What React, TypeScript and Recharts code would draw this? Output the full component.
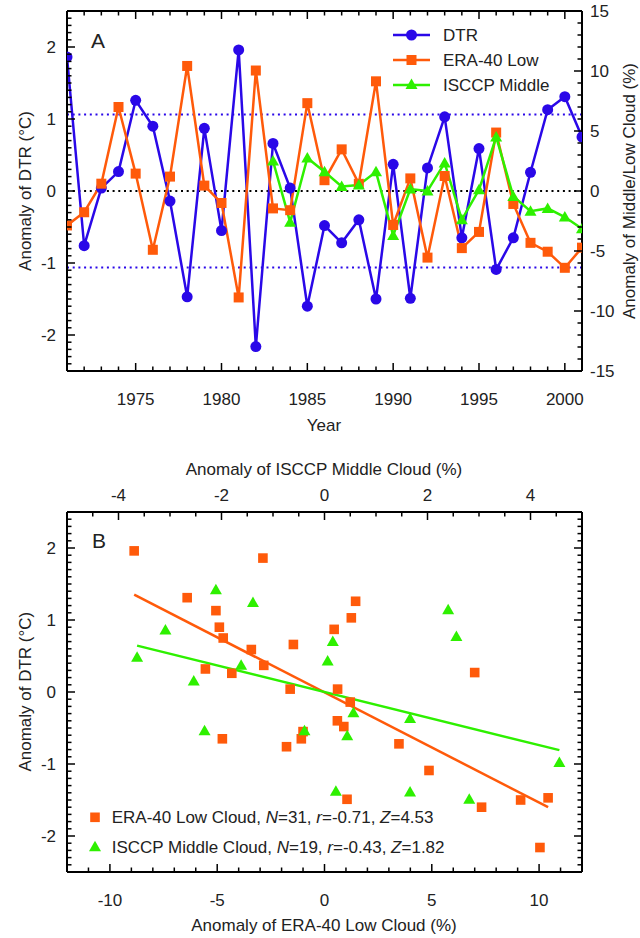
import React from 'react';
import { ComposedChart, Line, XAxis, YAxis, ReferenceLine, ScatterChart, Scatter, Legend } from 'recharts';

const FONT = '"Liberation Sans", Arial, Helvetica, sans-serif';
const TXT = '#222';
const BLUE = '#2a08e8';
const ORANGE = '#ff5a0a';
const GREEN = '#2ef000';

// ---------- data ----------
const years = [1971, 1972, 1973, 1974, 1975, 1976, 1977, 1978, 1979, 1980, 1981, 1982, 1983, 1984, 1985, 1986,
  1987, 1988, 1989, 1990, 1991, 1992, 1993, 1994, 1995, 1996, 1997, 1998, 1999, 2000, 2001];
const dtr = [1.86, -0.76, 0.04, 0.27, 1.26, 0.90, -0.14, -1.47, 0.87, -0.55, 1.96, -2.16, 0.66, 0.04, -1.60, -0.48,
  -0.72, -0.40, -1.50, 0.37, -1.49, 0.32, 1.03, -0.65, 0.59, -1.09, -0.65, 0.26, 1.13, 1.31, 0.75];
const eraLow = [-2.87, -1.77, 0.61, 7.0, 1.45, -4.9, 1.2, 10.42, 0.45, -1.0, -8.87, 10.04, -1.45, -1.6, 7.32, 0.9,
  3.47, 0.6, 9.14, -2.83, 1.05, -5.55, 1.25, -4.76, -3.41, 4.87, -1.08, -4.32, -5.06, -6.4, -4.72];
const isccpYears = [1983, 1984, 1985, 1986, 1987, 1988, 1989, 1990, 1991, 1992, 1993, 1994, 1995, 1996, 1997, 1998,
  1999, 2000, 2001];
const isccpMiddle = [2.5, -2.6, 2.75, 1.6, 0.38, 0.5, 1.6, -3.7, 0.16, 0.0, 2.34, -2.39, 0.1, 4.5, -0.45, -1.68,
  -1.45, -2.17, -3.15];

const yearLabels = [1975, 1980, 1985, 1990, 1995, 2000];
const dtrLabels = [-2, -1, 0, 1, 2];
const cloudLabels = [-15, -10, -5, 0, 5, 10, 15];
const eraLabels = [-10, -5, 0, 5, 10];
const isccpLabels = [-4, -2, 0, 2, 4];

// ---------- helpers ----------
const range = (a: number, b: number, step: number) => {
  const out: number[] = [];
  const n = Math.round((b - a) / step);
  for (let i = 0; i <= n; i++) out.push(Math.round((a + i * step) * 1000) / 1000);
  return out;
};
const mean = (a: number[]) => a.reduce((s, v) => s + v, 0) / a.length;
const sdev = (a: number[]) => {
  const m = mean(a);
  return Math.sqrt(a.reduce((s, v) => s + (v - m) * (v - m), 0) / (a.length - 1));
};
const fitLine = (xs: number[], ys: number[]) => {
  const mx = mean(xs), my = mean(ys);
  let sxy = 0, sxx = 0;
  xs.forEach((x, i) => { sxy += (x - mx) * (ys[i] - my); sxx += (x - mx) * (x - mx); });
  const b = sxy / sxx, a = my - b * mx;
  const x0 = Math.min(...xs), x1 = Math.max(...xs);
  return [{ x: x0, y: a + b * x0 }, { x: x1, y: a + b * x1 }];
};

const yearTicks = years;
const dtrTicks = range(-2.5, 2.5, 0.1);
const cloudTicks = range(-15, 15, 1);
const eraTicks = range(-12, 12, 1);
const isccpTicks = range(-5, 5, 0.5);

const dtrSd = sdev(dtr);

const rowsA = years.map((yr, i) => {
  const j = isccpYears.indexOf(yr);
  return { year: yr, dtr: dtr[i], era: eraLow[i], isccp: j >= 0 ? isccpMiddle[j] : null };
});

const eraPts = eraLow.map((e, i) => ({ x: e, y: dtr[i] }));
const dtrSub = isccpYears.map((yr) => dtr[years.indexOf(yr)]);
const dtrSubMean = mean(dtrSub);
const isccpMean = mean(isccpMiddle);
const isccpPts = isccpMiddle.map((v, i) => ({ x: v - isccpMean, y: dtrSub[i] - dtrSubMean }));
const eraFit = fitLine(eraPts.map((p) => p.x), eraPts.map((p) => p.y));
const isccpFit = fitLine(isccpPts.map((p) => p.x), isccpPts.map((p) => p.y));

// ---------- ticks ----------
const isIn = (list: number[], v: number) => list.some((l) => Math.abs(l - v) < 1e-6);
const tickText = { fontFamily: FONT, fontSize: 17, fill: TXT };

function tickRenderer(orient: string, majors: number[], showLabels: boolean) {
  return (props: any) => {
    const { x, y, payload } = props;
    const v = payload.value;
    const major = isIn(majors, v);
    const len = major ? 8 : 4.5;
    let line: any = null;
    let label: any = null;
    if (orient === 'bottom') {
      line = <line x1={x} y1={y} x2={x} y2={y - len} stroke="#000" strokeWidth={1.5} />;
      if (showLabels && major) label = <text x={x} y={y + 34} textAnchor="middle" {...tickText}>{String(v)}</text>;
    } else if (orient === 'top') {
      line = <line x1={x} y1={y} x2={x} y2={y + len} stroke="#000" strokeWidth={1.5} />;
      if (showLabels && major) label = <text x={x} y={y - 11} textAnchor="middle" {...tickText}>{String(v)}</text>;
    } else if (orient === 'left') {
      line = <line x1={x} y1={y} x2={x + len} y2={y} stroke="#000" strokeWidth={1.5} />;
      if (showLabels && major) label = <text x={x - 11} y={y + 6} textAnchor="end" {...tickText}>{String(v)}</text>;
    } else {
      line = <line x1={x} y1={y} x2={x - len} y2={y} stroke="#000" strokeWidth={1.5} />;
      if (showLabels && major) label = <text x={x + 8} y={y + 6} textAnchor="start" {...tickText}>{String(v)}</text>;
    }
    return <g>{line}{label}</g>;
  };
}

// ---------- markers ----------
const circleDot = (props: any) => {
  const { cx, cy, index } = props;
  if (cx == null || cy == null) return <g key={`c${index}`} />;
  return <circle key={`c${index}`} cx={cx} cy={cy} r={5.5} fill={BLUE} />;
};
const squareDot = (props: any) => {
  const { cx, cy, index } = props;
  if (cx == null || cy == null) return <g key={`s${index}`} />;
  return <rect key={`s${index}`} x={cx - 5} y={cy - 5} width={10} height={10} fill={ORANGE} />;
};
const triDot = (props: any) => {
  const { cx, cy, index } = props;
  if (cx == null || cy == null) return <g key={`t${index}`} />;
  return <polygon key={`t${index}`} points={`${cx},${cy - 6} ${cx - 6},${cy + 4.5} ${cx + 6},${cy + 4.5}`} fill={GREEN} />;
};
const squareShape = (props: any) => (
  <rect x={props.cx - 4.8} y={props.cy - 4.8} width={9.6} height={9.6} fill={ORANGE} />
);
const triShape = (props: any) => (
  <polygon points={`${props.cx},${props.cy - 6} ${props.cx - 6},${props.cy + 4.5} ${props.cx + 6},${props.cy + 4.5}`} fill={GREEN} />
);
const noShape = () => <g />;

const AX = { stroke: '#000', strokeWidth: 2 };
const titleStyle = { fontFamily: FONT, fontSize: 17, fill: TXT };

// ---------- titles ----------
const TitlesA = () => (
  <g>
    <text x={324} y={431} textAnchor="middle" {...titleStyle}>Year</text>
    <text x={98} y={47.5} textAnchor="middle" style={{ fontFamily: FONT, fontSize: 21, fill: TXT }}>A</text>
    <text transform="translate(31,191) rotate(-90)" textAnchor="middle" {...titleStyle}>Anomaly of DTR (°C)</text>
    <text transform="translate(635,191) rotate(-90)" textAnchor="middle" {...titleStyle}>Anomaly of Middle/Low Cloud (%)</text>
  </g>
);

const TitlesB = () => (
  <g>
    <text x={324} y={481} textAnchor="middle" {...titleStyle}>Anomaly of ERA-40 Low Cloud (%)</text>
    <text x={324} y={25} textAnchor="middle" {...titleStyle}>Anomaly of ISCCP Middle Cloud (%)</text>
    <text x={99} y={97.5} textAnchor="middle" style={{ fontFamily: FONT, fontSize: 21, fill: TXT }}>B</text>
    <text transform="translate(31,241.7) rotate(-90)" textAnchor="middle" {...titleStyle}>Anomaly of DTR (°C)</text>
  </g>
);

// ---------- legends ----------
const legendItemsA = [
  { name: 'DTR', color: BLUE, mark: 'circle' },
  { name: 'ERA-40 Low', color: ORANGE, mark: 'square' },
  { name: 'ISCCP Middle', color: GREEN, mark: 'triangle' },
];

const LegendA = () => (
  <svg width={220} height={80} style={{ overflow: 'visible', display: 'block' }}>
    {legendItemsA.map((it, i) => {
      const y = 15 + i * 25;
      const cx = 26.5;
      return (
        <g key={it.name}>
          <line x1={8} y1={y} x2={45} y2={y} stroke={it.color} strokeWidth={2.5} />
          {it.mark === 'circle' && <circle cx={cx} cy={y} r={5.5} fill={it.color} />}
          {it.mark === 'square' && <rect x={cx - 5} y={y - 5} width={10} height={10} fill={it.color} />}
          {it.mark === 'triangle' && (
            <polygon points={`${cx},${y - 6.5} ${cx - 6},${y + 4} ${cx + 6},${y + 4}`} fill={it.color} />
          )}
          <text x={58} y={y + 6} {...titleStyle}>{it.name}</text>
        </g>
      );
    })}
  </svg>
);

const LegendB = () => (
  <svg width={420} height={60} style={{ overflow: 'visible', display: 'block' }}>
    <rect x={10 - 4.8} y={12.3 - 4.8} width={9.6} height={9.6} fill={ORANGE} />
    <text x={26.7} y={18.3} {...titleStyle}>
      ERA-40 Low Cloud, <tspan fontStyle="italic">N</tspan>=31, <tspan fontStyle="italic">r</tspan>=-0.71, <tspan fontStyle="italic">Z</tspan>=4.53
    </text>
    <polygon points={`10,${41.7 - 6} 4,${41.7 + 4.5} 16,${41.7 + 4.5}`} fill={GREEN} />
    <text x={26.7} y={47.7} {...titleStyle}>
      ISCCP Middle Cloud, <tspan fontStyle="italic">N</tspan>=19, <tspan fontStyle="italic">r</tspan>=-0.43, <tspan fontStyle="italic">Z</tspan>=1.82
    </text>
  </svg>
);

export default function App() {
  return (
    <div style={{ position: 'absolute', left: 0, top: 0, width: 640, height: 938, background: '#fff' }}>
      <div style={{ position: 'absolute', left: 0, top: 0 }}>
        <ComposedChart width={640} height={450} data={rowsA} margin={{ top: 1, right: 0, bottom: 0, left: 0 }}>
          <XAxis xAxisId="bottom" dataKey="year" type="number" domain={[1971, 2001]} allowDataOverflow
            ticks={yearTicks} interval={0} tickSize={0} tickMargin={0} tickLine={false} axisLine={AX}
            tick={tickRenderer('bottom', yearLabels, true)} height={79} label={TitlesA} />
          <XAxis xAxisId="top" orientation="top" dataKey="year" type="number" domain={[1971, 2001]} allowDataOverflow
            ticks={yearTicks} interval={0} tickSize={0} tickMargin={0} tickLine={false} axisLine={AX}
            tick={tickRenderer('top', yearLabels, false)} height={10} />
          <YAxis yAxisId="left" type="number" domain={[-2.5, 2.5]} allowDataOverflow ticks={dtrTicks} interval={0}
            tickSize={0} tickMargin={0} tickLine={false} axisLine={AX} tick={tickRenderer('left', dtrLabels, true)} width={67} />
          <YAxis yAxisId="right" orientation="right" type="number" domain={[-15, 15]} allowDataOverflow ticks={cloudTicks}
            interval={0} tickSize={0} tickMargin={0} tickLine={false} axisLine={AX}
            tick={tickRenderer('right', cloudLabels, true)} width={58} />
          <ReferenceLine xAxisId="bottom" yAxisId="left" y={dtrSd} stroke={BLUE} strokeWidth={2} strokeDasharray="2 3.7" />
          <ReferenceLine xAxisId="bottom" yAxisId="left" y={-dtrSd} stroke={BLUE} strokeWidth={2} strokeDasharray="2 3.7" />
          <ReferenceLine xAxisId="bottom" yAxisId="left" y={0} stroke="#000" strokeWidth={2} strokeDasharray="2 3.7" />
          <Line xAxisId="bottom" yAxisId="left" dataKey="dtr" type="linear" stroke={BLUE} strokeWidth={2.5}
            dot={circleDot} activeDot={false} isAnimationActive={false} />
          <Line xAxisId="bottom" yAxisId="right" dataKey="era" type="linear" stroke={ORANGE} strokeWidth={2.5}
            dot={squareDot} activeDot={false} isAnimationActive={false} />
          <Line xAxisId="bottom" yAxisId="right" dataKey="isccp" type="linear" stroke={GREEN} strokeWidth={2.5}
            dot={triDot} activeDot={false} isAnimationActive={false} connectNulls={false} />
          <Legend content={LegendA} layout="horizontal" verticalAlign="middle" align="center"
            wrapperStyle={{ position: 'absolute', left: 385, top: 20, width: 220, height: 80 }} />
        </ComposedChart>
      </div>
      <div style={{ position: 'absolute', left: 0, top: 450 }}>
        <ScatterChart width={640} height={488} margin={{ top: 0, right: 0, bottom: 0, left: 0 }}>
          <XAxis xAxisId="bottom" dataKey="x" type="number" domain={[-12, 12]} allowDataOverflow ticks={eraTicks}
            interval={0} tickSize={0} tickMargin={0} tickLine={false} axisLine={AX}
            tick={tickRenderer('bottom', eraLabels, true)} height={66} label={TitlesB} />
          <XAxis xAxisId="top" orientation="top" dataKey="x" type="number" domain={[-5, 5]} allowDataOverflow
            ticks={isccpTicks} interval={0} tickSize={0} tickMargin={0} tickLine={false} axisLine={AX}
            tick={tickRenderer('top', isccpLabels, true)} height={62} />
          <YAxis yAxisId="left" dataKey="y" type="number" domain={[-2.5, 2.5]} allowDataOverflow ticks={dtrTicks}
            interval={0} tickSize={0} tickMargin={0} tickLine={false} axisLine={AX}
            tick={tickRenderer('left', dtrLabels, true)} width={67} />
          <YAxis yAxisId="right" orientation="right" dataKey="y" type="number" domain={[-2.5, 2.5]} allowDataOverflow
            ticks={dtrTicks} interval={0} tickSize={0} tickMargin={0} tickLine={false} axisLine={AX}
            tick={tickRenderer('right', dtrLabels, false)} width={58} />
          <Scatter xAxisId="bottom" yAxisId="left" data={eraFit} line={{ stroke: ORANGE, strokeWidth: 2.5 }}
            shape={noShape} isAnimationActive={false} />
          <Scatter xAxisId="top" yAxisId="left" data={isccpFit} line={{ stroke: GREEN, strokeWidth: 2.5 }}
            shape={noShape} isAnimationActive={false} />
          <Scatter xAxisId="bottom" yAxisId="left" data={eraPts} shape={squareShape} isAnimationActive={false} />
          <Scatter xAxisId="top" yAxisId="left" data={isccpPts} shape={triShape} isAnimationActive={false} />
          <Legend content={LegendB} layout="horizontal" verticalAlign="middle" align="center"
            wrapperStyle={{ position: 'absolute', left: 85, top: 355, width: 420, height: 60 }} />
        </ScatterChart>
      </div>
    </div>
  );
}
